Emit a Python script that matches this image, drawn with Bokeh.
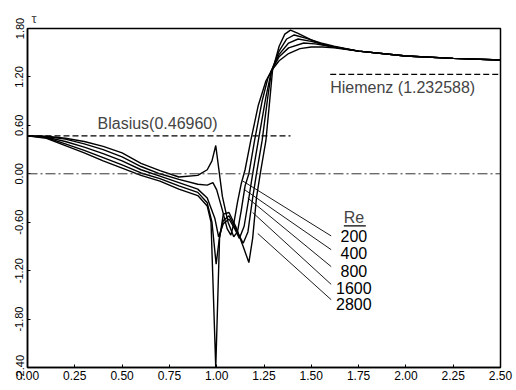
from bokeh.plotting import figure
from bokeh.models import Range1d, Label, FixedTicker, Span, NumeralTickFormatter
from bokeh.embed import file_html
from bokeh.resources import INLINE

# ---------------- data ----------------
x_ticks = [0.0, 0.25, 0.5, 0.75, 1.0, 1.25, 1.5, 1.75, 2.0, 2.25, 2.5]
y_ticks = [-2.4, -1.8, -1.2, -0.6, 0.0, 0.6, 1.2, 1.8]

re_labels = ["200", "400", "800", "1600", "2800"]

x_early = [0.0, 0.1, 0.2, 0.3, 0.4, 0.5, 0.6, 0.7, 0.8, 0.9]

# Re = 200
x_re200 = x_early + [0.95, 0.98, 1.0, 1.03, 1.055, 1.075, 1.09, 1.11, 1.13, 1.15, 1.18, 1.22,
                     1.26, 1.29, 1.33, 1.38, 1.44, 1.5, 1.56, 1.62, 1.75, 2.0, 2.25, 2.5]
y_re200 = [0.47, 0.46, 0.43, 0.37, 0.30, 0.21, 0.09, 0.0, -0.07, -0.13,
           -0.14, -0.11, -0.2, -0.45, -0.68, -0.76, -0.62, -0.35, -0.12, 0.05, 0.41, 0.85,
           1.15, 1.28, 1.40, 1.49, 1.55, 1.57, 1.57, 1.56, 1.52, 1.46, 1.43, 1.41]

# Re = 400
x_re400 = x_early + [0.95, 0.975, 0.995, 1.01, 1.03, 1.06, 1.09, 1.11, 1.13, 1.15, 1.17, 1.20,
                     1.24, 1.27, 1.29, 1.33, 1.38, 1.46, 1.52, 1.62, 1.75, 2.0, 2.25, 2.5]
y_re400 = [0.47, 0.465, 0.44, 0.40, 0.34, 0.26, 0.13, 0.04, -0.04, -0.02,
           0.05, 0.16, 0.35, 0.08, -0.28, -0.6, -0.78, -0.72, -0.45, -0.15, 0.0, 0.41,
           0.9, 1.18, 1.28, 1.45, 1.56, 1.62, 1.61, 1.57, 1.52, 1.46, 1.43, 1.41]

# Re = 800
x_re800 = x_early + [0.95, 0.99, 1.01, 1.035, 1.065, 1.095, 1.12, 1.145, 1.17, 1.19, 1.22,
                     1.26, 1.29, 1.33, 1.38, 1.43, 1.5, 1.6, 1.75, 2.0, 2.25, 2.5]
y_re800 = [0.47, 0.455, 0.40, 0.33, 0.25, 0.16, 0.05, -0.03, -0.11, -0.19,
           -0.3, -0.55, -0.78, -0.62, -0.56, -0.68, -0.8, -0.65, -0.3, 0.0, 0.41,
           0.95, 1.28, 1.48, 1.62, 1.67, 1.64, 1.58, 1.52, 1.46, 1.43, 1.41]

# Re = 1600
x_re1600 = x_early + [0.95, 0.975, 0.997, 1.015, 1.035, 1.065, 1.1, 1.14, 1.165, 1.19, 1.21,
                      1.24, 1.27, 1.29, 1.33, 1.37, 1.41, 1.47, 1.55, 1.62, 1.75, 2.0, 2.25, 2.5]
y_re1600 = [0.47, 0.45, 0.37, 0.29, 0.20, 0.11, 0.01, -0.06, -0.15, -0.23,
            -0.36, -0.6, -1.12, -0.78, -0.58, -0.52, -0.68, -0.86, -0.72, -0.3, 0.0,
            0.41, 0.95, 1.28, 1.52, 1.67, 1.72, 1.68, 1.62, 1.58, 1.52, 1.46, 1.43, 1.41]

# Re = 2800
x_re2800 = x_early + [0.95, 0.97, 0.995, 1.015, 1.035, 1.065, 1.1, 1.14, 1.17, 1.19, 1.21,
                      1.23, 1.26, 1.28, 1.295, 1.33, 1.36, 1.39, 1.43, 1.5, 1.56, 1.62, 1.75,
                      2.0, 2.25, 2.5]
y_re2800 = [0.47, 0.44, 0.35, 0.26, 0.16, 0.07, -0.02, -0.09, -0.19, -0.27,
            -0.4, -0.6, -2.4, -0.8, -0.5, -0.48, -0.65, -0.9, -1.1, -0.8, -0.3,
            0.0, 0.41, 0.9, 1.28, 1.58, 1.73, 1.78, 1.74, 1.66, 1.6, 1.57, 1.52,
            1.46, 1.43, 1.41]

blasius_value = 0.46960
hiemenz_value = 1.232588

curves = [(x_re200, y_re200), (x_re400, y_re400), (x_re800, y_re800),
          (x_re1600, y_re1600), (x_re2800, y_re2800)]

# ---------------- annotation layout ----------------
blasius_extent = (0.0, 1.39)
hiemenz_extent = (1.60, 2.5)
leader_start_x = [1.138, 1.143, 1.164, 1.19, 1.217]
leader_start_y = [-0.09, -0.19, -0.30, -0.48, -0.74]
leader_end_x = 1.605
leader_end_y = [-0.77, -0.94, -1.15, -1.37, -1.56]
label_x = 1.725
label_y = [-0.77, -0.98, -1.20, -1.41, -1.61]

FONT = "Liberation Sans"

p = figure(width=516, height=390, x_range=Range1d(0, 2.5), y_range=Range1d(-2.4, 1.8),
           output_backend="svg", toolbar_location=None,
           min_border_left=27, min_border_right=16, min_border_top=28, min_border_bottom=23,
           title="τ")
p.title.align = "left"
p.title.offset = 4
p.title.text_font = FONT
p.title.text_font_size = "13px"
p.title.text_font_style = "normal"
p.title.standoff = 6
p.xgrid.visible = False
p.ygrid.visible = False
p.outline_line_color = "black"
p.outline_line_width = 1.5
p.outline_line_alpha = 1.0
p.background_fill_color = "white"
p.border_fill_color = "white"

for ax, ticks in ((p.xaxis, x_ticks), (p.yaxis, y_ticks)):
    ax.ticker = FixedTicker(ticks=ticks)
    ax.formatter = NumeralTickFormatter(format="0.00")
    ax.axis_line_color = "black"
    ax.axis_line_width = 1.5
    ax.major_tick_in = 3
    ax.major_tick_out = 0
    ax.major_tick_line_color = "black"
    ax.minor_tick_line_color = None
    ax.major_label_text_font = FONT
    ax.major_label_text_color = "black"

p.xaxis.major_label_text_font_size = "12px"
p.xaxis.major_label_standoff = 3
p.yaxis.major_label_text_font_size = "11px"
p.yaxis.major_label_orientation = "vertical"
p.yaxis.major_label_standoff = 4

# zero reference line
p.add_layout(Span(location=0, dimension="width", line_color="#333333",
                  line_width=1, line_dash="10 3 2 3"))

# Blasius and Hiemenz asymptotes
p.line(list(blasius_extent), [blasius_value, blasius_value], line_color="black",
       line_width=1.2, line_dash="6 3")
p.line(list(hiemenz_extent), [hiemenz_value, hiemenz_value], line_color="black",
       line_width=1.2, line_dash="6 3")

for xs, ys in curves:
    p.line(xs, ys, line_color="black", line_width=1.4)

# leader lines
for i in range(len(re_labels)):
    p.line([leader_start_x[i], leader_end_x], [leader_start_y[i], leader_end_y[i]],
           line_color="black", line_width=0.9)
    p.add_layout(Label(x=label_x, y=label_y[i], text=re_labels[i], text_align="center",
                       text_baseline="middle", text_font=FONT, text_font_size="16px",
                       text_color="black"))

p.add_layout(Label(x=label_x, y=-0.545, text="Re", text_align="center",
                   text_baseline="middle", text_font=FONT, text_font_size="16px"))
p.line([1.672, 1.788], [-0.645, -0.645], line_color="black", line_width=1.2)

p.add_layout(Label(x=0.37, y=0.62, text="Blasius(0.46960)", text_font=FONT,
                   text_font_size="16px", text_baseline="alphabetic"))
p.add_layout(Label(x=1.60, y=1.07, text="Hiemenz (1.232588)", text_font=FONT,
                   text_font_size="16px", text_baseline="alphabetic"))

p.add_layout(Label(x=2.525, y=-2.575, text="ξ", text_font=FONT, text_font_size="11px",
                   text_font_style="italic", text_baseline="middle", text_align="center"))

open("out.html", "w").write(file_html(p, INLINE))
